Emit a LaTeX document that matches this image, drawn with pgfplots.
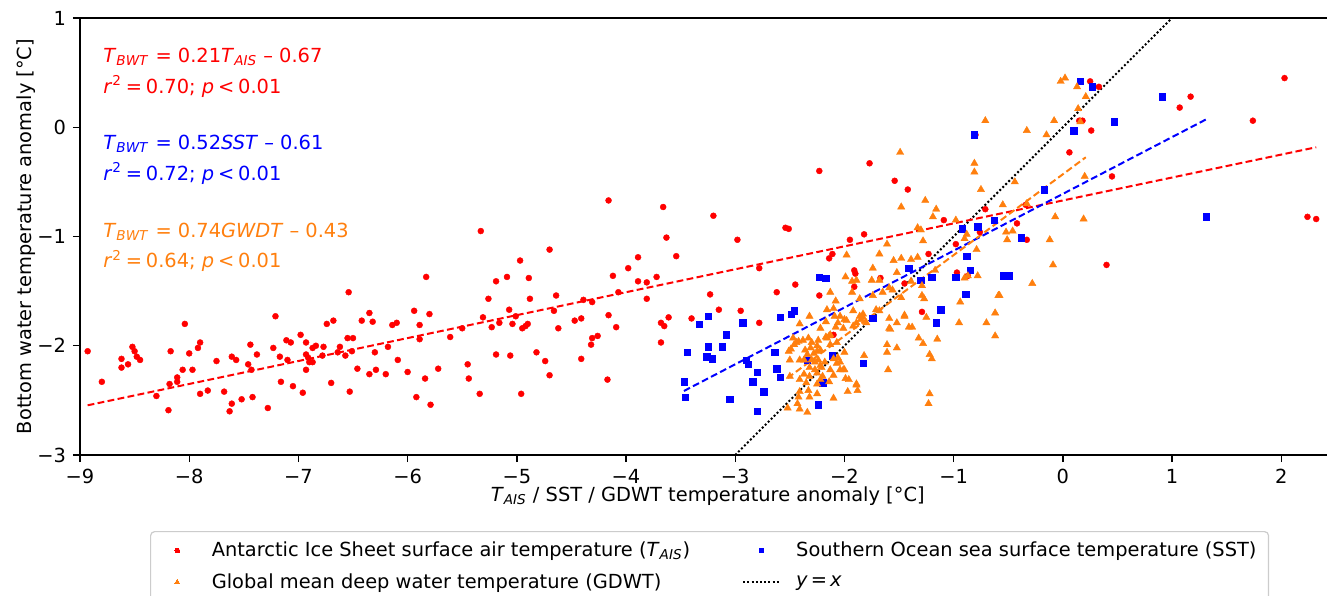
\documentclass[border=0pt]{standalone}
\usepackage{fontspec}
\setmainfont{DejaVu Sans}
\usepackage{pgfplots}
\usepackage{pgfplotstable}
\pgfplotsset{compat=1.18}
\definecolor{tabor}{RGB}{255,127,14}
\definecolor{lgray}{RGB}{204,204,204}
\newcommand{\sbi}[1]{\textsubscript{\textit{#1}}}
\pgfplotsset{
  mylegmark/.style={legend image code/.code={\path (0pt,0pt) (18pt,0pt); \draw[##1] plot coordinates {(9pt,0pt)};}},
  myleglin/.style={legend image code/.code={\draw[##1] (0pt,0pt) -- (18pt,0pt);}},
}

\pgfplotstableread{
x y
-8.93 -2.05
-8.80 -2.33
-8.62 -2.12
-8.62 -2.20
-8.56 -2.17
-8.52 -2.01
-8.50 -2.05
-8.48 -2.10
-8.45 -2.13
-8.30 -2.46
-8.19 -2.59
-8.18 -2.35
-8.17 -2.05
-8.11 -2.33
-8.11 -2.29
-8.06 -2.22
-8.04 -1.80
-8.00 -2.07
-7.97 -2.22
-7.92 -2.02
-7.90 -1.97
-7.90 -2.44
-7.83 -2.41
-7.75 -2.14
-7.68 -2.42
-7.63 -2.60
-7.61 -2.53
-7.61 -2.10
-7.57 -2.13
-7.52 -2.49
-7.46 -2.17
-7.44 -1.99
-7.43 -2.22
-7.42 -2.47
-7.38 -2.08
-7.28 -2.57
-7.23 -2.02
-7.21 -1.73
-7.17 -2.10
-7.16 -2.33
-7.11 -1.95
-7.10 -2.13
-7.07 -1.97
-7.05 -2.37
-6.98 -1.90
-6.96 -2.43
-6.93 -1.97
-6.93 -2.08
-6.93 -2.22
-6.91 -2.11
-6.90 -2.15
-6.87 -2.15
-6.87 -2.02
-6.84 -2.00
-6.78 -2.09
-6.77 -2.01
-6.74 -1.80
-6.70 -2.34
-6.68 -1.77
-6.64 -2.06
-6.62 -2.01
-6.57 -2.09
-6.55 -1.93
-6.54 -1.51
-6.53 -2.42
-6.51 -2.05
-6.50 -1.93
-6.46 -2.21
-6.42 -1.77
-6.35 -1.70
-6.35 -2.26
-6.32 -1.78
-6.30 -2.06
-6.29 -2.22
-6.20 -2.26
-6.18 -2.01
-6.14 -1.81
-6.10 -1.79
-6.09 -2.13
-6.00 -2.24
-5.94 -1.68
-5.92 -2.47
-5.89 -1.81
-5.89 -1.94
-5.84 -2.30
-5.83 -1.37
-5.80 -1.71
-5.79 -2.54
-5.72 -2.21
-5.61 -1.92
-5.50 -1.84
-5.45 -2.17
-5.44 -2.30
-5.34 -2.44
-5.33 -0.95
-5.31 -1.74
-5.26 -1.57
-5.23 -1.83
-5.19 -1.41
-5.19 -2.08
-5.16 -1.79
-5.09 -1.37
-5.07 -1.67
-5.06 -2.09
-5.04 -1.80
-5.01 -1.73
-4.97 -1.22
-4.96 -2.44
-4.95 -1.84
-4.92 -1.82
-4.90 -1.80
-4.89 -1.38
-4.88 -1.57
-4.82 -2.06
-4.74 -2.14
-4.70 -2.27
-4.70 -1.12
-4.66 -1.68
-4.64 -1.54
-4.62 -1.84
-4.47 -1.77
-4.41 -1.75
-4.41 -2.12
-4.39 -1.58
-4.32 -1.99
-4.31 -1.93
-4.31 -1.60
-4.26 -1.91
-4.17 -2.31
-4.16 -0.67
-4.16 -1.72
-4.12 -1.36
-4.09 -1.83
-4.07 -1.51
-3.98 -1.29
-3.89 -1.19
-3.89 -1.41
-3.81 -1.42
-3.81 -1.57
-3.72 -1.37
-3.68 -1.97
-3.68 -1.79
-3.66 -0.73
-3.65 -1.82
-3.63 -1.01
-3.61 -1.74
-3.54 -1.18
-3.40 -1.75
-3.23 -1.53
-3.20 -0.81
-3.15 -1.67
-2.98 -1.03
-2.95 -1.68
-2.78 -1.29
-2.78 -1.79
-2.62 -1.51
-2.54 -0.92
-2.51 -0.93
-2.45 -1.44
-2.23 -0.40
-2.23 -1.54
-2.14 -1.20
-2.11 -1.16
-2.10 -1.90
-1.95 -1.03
-1.91 -1.46
-1.90 -1.34
-1.91 -1.31
-1.82 -0.98
-1.77 -0.33
-1.67 -1.38
-1.54 -0.49
-1.45 -1.43
-1.42 -0.57
-1.29 -1.69
-1.23 -1.16
-1.09 -0.85
-0.98 -1.07
-0.97 -1.33
-0.87 -1.36
-0.80 -0.07
-0.76 -0.96
-0.71 -0.75
-0.42 -0.88
-0.34 -0.71
-0.33 -1.03
0.06 -0.23
0.15 0.06
0.18 0.06
0.26 -0.03
0.25 0.42
0.33 0.37
0.40 -1.26
0.45 -0.45
1.07 0.18
1.17 0.28
1.74 0.06
2.03 0.45
2.24 -0.82
2.32 -0.84
}\redtab

\pgfplotstableread{
x y
-3.47 -2.33
-3.46 -2.47
-3.44 -2.06
-3.33 -1.80
-3.26 -2.10
-3.25 -1.73
-3.25 -2.01
-3.21 -2.12
-3.12 -2.01
-3.08 -1.90
-3.05 -2.49
-2.93 -1.79
-2.90 -2.13
-2.88 -2.17
-2.84 -2.33
-2.80 -2.24
-2.80 -2.60
-2.74 -2.42
-2.64 -2.06
-2.62 -2.21
-2.59 -1.74
-2.59 -2.29
-2.49 -1.71
-2.46 -1.68
-2.34 -2.13
-2.24 -2.54
-2.23 -1.37
-2.17 -1.38
-2.20 -2.34
-2.11 -2.09
-1.83 -2.16
-1.74 -1.75
-1.41 -1.29
-1.30 -1.40
-1.20 -1.37
-1.16 -1.79
-1.12 -1.67
-0.98 -1.37
-0.92 -0.93
-0.89 -1.53
-0.88 -1.18
-0.85 -1.31
-0.81 -0.07
-0.78 -0.91
-0.63 -0.85
-0.54 -1.36
-0.49 -1.36
-0.38 -1.01
-0.17 -0.57
0.10 -0.03
0.16 0.42
0.27 0.37
0.47 0.05
0.91 0.28
1.31 -0.82
}\bluetab

\pgfplotstableread{
x y
-0.02 0.42
0.02 0.45
0.13 0.37
0.21 0.28
0.14 0.17
-0.08 0.06
0.16 0.05
-0.33 -0.03
-0.15 -0.07
-0.71 0.06
-1.49 -0.23
-0.81 -0.33
-0.81 -0.41
-0.44 -0.50
0.20 -0.45
-0.75 -0.57
-1.26 -0.67
-1.48 -0.73
-1.16 -0.75
-1.19 -0.82
-0.55 -0.71
-0.33 -0.70
-0.07 -0.82
0.19 -0.84
-0.98 -0.85
-1.33 -0.92
-1.30 -0.94
-0.52 -0.96
-0.46 -0.95
-0.51 -1.03
-0.12 -1.03
-0.88 -0.98
-0.90 -1.02
-1.28 -1.04
-1.61 -1.07
-1.98 -1.17
-1.68 -1.16
-1.55 -1.22
-1.48 -1.20
-1.39 -1.21
-1.33 -1.19
-0.79 -1.12
-1.74 -1.29
-1.52 -1.33
-1.17 -1.31
-1.99 -1.37
-1.93 -1.41
-1.89 -1.40
-1.75 -1.40
-1.68 -1.40
-1.65 -1.51
-1.59 -1.47
-1.39 -1.41
-1.29 -1.45
-0.90 -1.38
-0.87 -1.36
-0.78 -1.36
-0.09 -1.26
-0.28 -1.43
-0.58 -1.54
-1.86 -1.57
-1.93 -1.51
-1.74 -1.54
-1.48 -1.56
-1.29 -1.54
-1.27 -1.57
-0.59 -1.54
-0.94 -1.60
-1.92 -1.68
-1.71 -1.67
-1.68 -1.68
-2.00 -1.76
-1.86 -1.73
-1.83 -1.74
-2.04 -1.73
-1.59 -1.75
-1.45 -1.73
-1.25 -1.74
-0.62 -1.70
-2.01 -1.84
-1.92 -1.82
-1.59 -1.84
-1.52 -1.79
-1.41 -1.83
-1.38 -1.83
-0.95 -1.79
-0.70 -1.79
-1.32 -1.93
-1.28 -1.98
-1.15 -1.94
-0.62 -1.91
-1.61 -1.99
-1.52 -2.02
-1.61 -2.06
-1.22 -2.08
-1.20 -2.12
-1.82 -2.09
-2.00 -2.06
-2.04 -2.15
-2.01 -2.22
-1.99 -2.30
-1.96 -2.31
-1.60 -2.22
-1.89 -2.35
-1.97 -2.42
-1.88 -2.41
-1.22 -2.44
-1.23 -2.53
-2.13 -1.51
-2.08 -1.59
-1.56 -1.49
-2.32 -1.73
-2.41 -1.80
-2.22 -1.84
-2.17 -1.78
-2.09 -1.73
-2.06 -1.79
-2.08 -1.83
-2.13 -1.90
-2.16 -1.93
-1.98 -1.77
-1.89 -1.79
-1.85 -1.76
-1.83 -1.71
-1.80 -1.79
-1.45 -1.72
-1.58 -1.85
-2.51 -2.05
-2.49 -2.03
-2.46 -1.99
-2.44 -1.97
-2.33 -1.93
-2.24 -1.95
-2.25 -2.00
-2.31 -2.02
-2.28 -2.07
-2.25 -2.05
-2.22 -2.04
-2.17 -1.92
-2.14 -1.91
-2.13 -1.99
-2.07 -1.97
-2.10 -2.12
-2.06 -2.11
-2.07 -2.16
-2.37 -2.13
-2.34 -2.08
-2.30 -2.13
-2.27 -2.15
-2.24 -2.13
-2.22 -2.18
-2.18 -2.15
-2.32 -2.20
-2.27 -2.22
-2.21 -2.20
-2.37 -2.26
-2.32 -2.28
-2.25 -2.25
-2.13 -2.22
-2.10 -2.27
-2.14 -2.33
-2.04 -2.22
-2.00 -2.22
-1.89 -2.36
-2.35 -2.34
-2.25 -2.35
-2.33 -2.41
-2.25 -2.44
-2.41 -2.42
-2.42 -2.47
-2.32 -2.47
-2.10 -2.48
-2.43 -2.53
-2.41 -2.58
-2.52 -2.57
-2.34 -2.61
-2.41 -2.31
-2.16 -1.67
-2.10 -1.66
-2.47 -1.93
-2.42 -1.96
-2.38 -1.95
-2.50 -2.13
-2.41 -2.13
-2.50 -2.28
-2.22 -2.31
-2.20 -2.28
-2.30 -1.97
-2.36 -2.04
}\orangetab

\begin{document}
\begin{tikzpicture}[font=\fontsize{9.7pt}{11.6pt}\selectfont]
\begin{axis}[
  at={(0pt,0pt)}, anchor=south west,
  scale only axis,
  width=625.2pt, height=218.5pt,
  xmin=-9, xmax=2.45, ymin=-3, ymax=1,
  axis line style={line width=0.7pt},
  tick pos=left, tick align=outside,
  major tick length=3.5pt,
  every tick/.style={black, line width=0.7pt},
  xtick={-9,-8,-7,-6,-5,-4,-3,-2,-1,0,1,2},
  xticklabels={−9,−8,−7,−6,−5,−4,−3,−2,−1,0,1,2},
  ytick={-3,-2,-1,0,1},
  yticklabels={−3,−2,−1,0,1},
  tick label style={font=\fontsize{9.7pt}{11.6pt}\selectfont},
  xlabel={\textit{T}\sbi{AIS} / SST / GDWT temperature anomaly [°C]},
  xlabel style={at={(axis description cs:0.502,-0.1069)}, anchor=base, inner sep=0pt},
  ylabel={Bottom water temperature anomaly [°C]},
  ylabel style={at={(axis description cs:-0.0352,0.5)}, anchor=south, inner sep=0pt, rotate=0},
  legend columns=2,
  legend cell align=left,
  legend style={at={(axis description cs:0.056,-0.174)}, anchor=north west,
    draw=lgray, rounded corners=2pt, line width=0.6pt,
    font=\fontsize{9.7pt}{11.6pt}\selectfont,
    row sep=3pt, inner xsep=4pt, inner ysep=3pt,
    /tikz/every odd column/.append style={column sep=6pt},
    /tikz/every even column/.append style={column sep=24pt}},
]
\addlegendimage{only marks, mark=*, mark size=1.2pt, mark options={draw=red, fill=red, line width=0pt}, mylegmark}
\addlegendentry{Antarctic Ice Sheet surface air temperature (\textit{T}\sbi{AIS})}
\addlegendimage{only marks, mark=square*, mark size=1.0pt, mark options={draw=blue, fill=blue, line width=0pt}, mylegmark}
\addlegendentry{Southern Ocean sea surface temperature (SST)}
\addlegendimage{only marks, mark=triangle*, mark size=1.5pt, mark options={draw=tabor, fill=tabor, line width=0pt}, mylegmark}
\addlegendentry{Global mean deep water temperature (GDWT)}
\addlegendimage{black, line width=1pt, dash pattern=on 1pt off 1.1pt, myleglin}
\addlegendentry{\textit{y}\hspace{0.15em}=\hspace{0.15em}\textit{x}}

\addplot[forget plot, only marks, mark=*, mark size=1.5pt, mark options={draw=red, fill=red, line width=0.2pt}] table[x=x,y=y] {\redtab};
\addplot[forget plot, only marks, mark=square*, mark size=1.6pt, mark options={draw=blue, fill=blue, line width=0.2pt}] table[x=x,y=y] {\bluetab};
\addplot[forget plot, only marks, mark=triangle*, mark size=2.1pt, mark options={draw=tabor, fill=tabor, line width=0.2pt}] table[x=x,y=y] {\orangetab};

\addplot[forget plot, black, line width=1pt, dash pattern=on 1pt off 1.1pt] coordinates {(-3,-3) (1,1)};
\addplot[forget plot, red, line width=1pt, dash pattern=on 3.4pt off 1.7pt] coordinates {(-8.93,-2.545) (2.32,-0.183)};
\addplot[forget plot, blue, line width=1pt, dash pattern=on 3.4pt off 1.7pt] coordinates {(-3.47,-2.414) (1.31,0.071)};
\addplot[forget plot, tabor, line width=1pt, dash pattern=on 3.4pt off 1.7pt] coordinates {(-2.52,-2.295) (0.21,-0.275)};

\node[anchor=base west, inner sep=0pt, text=red] at (axis cs:-8.79,0.591) {\textit{T}\sbi{BWT} = 0.21\textit{T}\sbi{AIS} -- 0.67};
\node[anchor=base west, inner sep=0pt, text=red] at (axis cs:-8.79,0.313) {\textit{r}\textsuperscript{2}\hspace{0.2em}=\hspace{0.2em}0.70; \textit{p}\hspace{0.2em}<\hspace{0.2em}0.01};
\node[anchor=base west, inner sep=0pt, text=blue] at (axis cs:-8.79,-0.208) {\textit{T}\sbi{BWT} = 0.52\textit{SST} -- 0.61};
\node[anchor=base west, inner sep=0pt, text=blue] at (axis cs:-8.79,-0.483) {\textit{r}\textsuperscript{2}\hspace{0.2em}=\hspace{0.2em}0.72; \textit{p}\hspace{0.2em}<\hspace{0.2em}0.01};
\node[anchor=base west, inner sep=0pt, text=tabor] at (axis cs:-8.79,-1.011) {\textit{T}\sbi{BWT} = 0.74\textit{GWDT} -- 0.43};
\node[anchor=base west, inner sep=0pt, text=tabor] at (axis cs:-8.79,-1.288) {\textit{r}\textsuperscript{2}\hspace{0.2em}=\hspace{0.2em}0.64; \textit{p}\hspace{0.2em}<\hspace{0.2em}0.01};
\end{axis}
\pgfresetboundingbox
\useasboundingbox (-40pt,-70pt) rectangle (623.5pt,227.5pt);
\end{tikzpicture}
\end{document}
